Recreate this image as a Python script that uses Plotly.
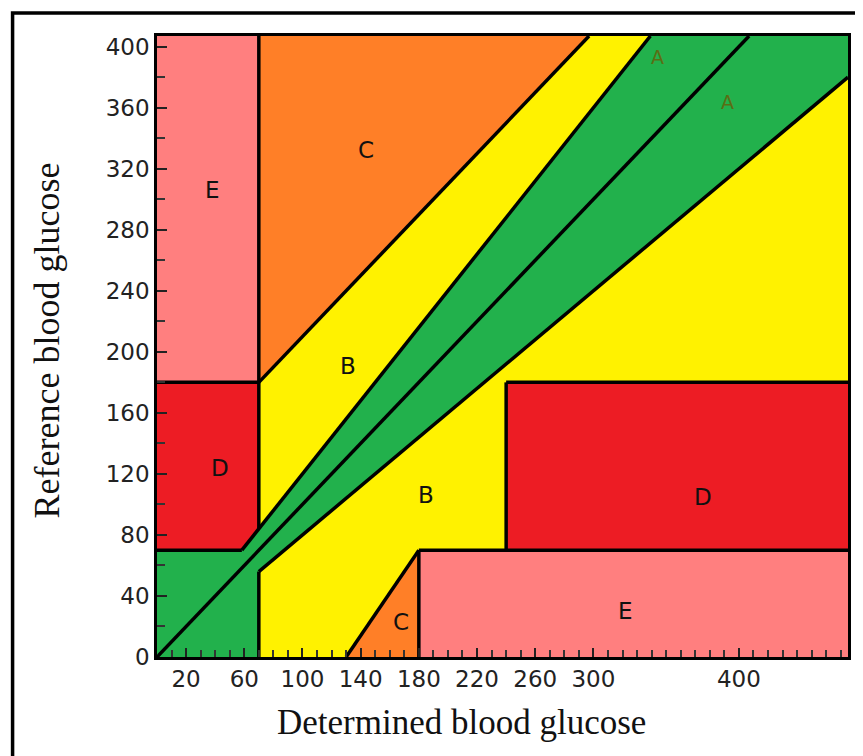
import plotly.graph_objects as go

# ---- axis extents (mg/dL) ----
X_MAX = 475
Y_MAX = 407

# ---- tick labels ----
x_tickvals = [20, 60, 100, 140, 180, 220, 260, 300, 400]
y_tickvals = [0, 40, 80, 120, 160, 200, 240, 280, 320, 360, 400]

# ---- zone polygons (determined, reference) ----
zone_A_x = [0, 0, 175 / 3, Y_MAX / 1.2, X_MAX, X_MAX, 70, 70]
zone_A_y = [0, 70, 70, Y_MAX, Y_MAX, 0.8 * X_MAX, 56, 0]

zone_B_up_x = [70, 70, Y_MAX - 110, Y_MAX / 1.2, 70]
zone_B_up_y = [84, 180, Y_MAX, Y_MAX, 84]

zone_B_lo_x = [70, 70, X_MAX, X_MAX, 240, 240, 180, 130]
zone_B_lo_y = [0, 56, 0.8 * X_MAX, 180, 180, 70, 70, 0]

zone_C_up_x = [70, 70, Y_MAX - 110]
zone_C_up_y = [180, Y_MAX, Y_MAX]

zone_C_lo_x = [130, 180, 180]
zone_C_lo_y = [0, 70, 0]

zone_D_up_x = [0, 0, 70, 70, 175 / 3]
zone_D_up_y = [70, 180, 180, 84, 70]

zone_D_lo_x = [240, 240, X_MAX, X_MAX]
zone_D_lo_y = [70, 180, 180, 70]

zone_E_up_x = [0, 0, 70, 70]
zone_E_up_y = [180, Y_MAX, Y_MAX, 180]

zone_E_lo_x = [180, 180, X_MAX, X_MAX]
zone_E_lo_y = [0, 70, 70, 0]

# ---- boundary segments ----
segments = [
    ([0, Y_MAX], [0, Y_MAX]),                 # identity
    ([175 / 3, Y_MAX / 1.2], [70, Y_MAX]),    # +20 %
    ([70, X_MAX], [56, 0.8 * X_MAX]),         # -20 %
    ([0, 175 / 3], [70, 70]),
    ([70, 70], [84, Y_MAX]),
    ([0, 70], [180, 180]),
    ([70, Y_MAX - 110], [180, Y_MAX]),
    ([70, 70], [0, 56]),
    ([180, 180], [0, 70]),
    ([180, X_MAX], [70, 70]),
    ([240, 240], [70, 180]),
    ([240, X_MAX], [180, 180]),
    ([130, 180], [0, 70]),
]

# ---- zone letters ----
label_text = ["E", "C", "A", "A", "B", "D", "B", "D", "C", "E"]
label_x = [38, 144, 344, 392, 131, 43, 185, 375, 168, 322]
label_y = [306, 332, 393, 364, 191, 124, 106, 105, 23, 30]

GREEN = "#22B14C"
YELLOW = "#FFF200"
ORANGE = "#FF7F27"
RED = "#ED1C24"
PINK = "#FF7F7F"

fig = go.Figure()

zones = [
    (zone_A_x, zone_A_y, GREEN),
    (zone_B_up_x, zone_B_up_y, YELLOW),
    (zone_B_lo_x, zone_B_lo_y, YELLOW),
    (zone_C_up_x, zone_C_up_y, ORANGE),
    (zone_C_lo_x, zone_C_lo_y, ORANGE),
    (zone_D_up_x, zone_D_up_y, RED),
    (zone_D_lo_x, zone_D_lo_y, RED),
    (zone_E_up_x, zone_E_up_y, PINK),
    (zone_E_lo_x, zone_E_lo_y, PINK),
]
for zx, zy, col in zones:
    fig.add_trace(go.Scatter(x=zx, y=zy, fill="toself", fillcolor=col,
                             mode="lines", line=dict(width=0, color=col),
                             hoverinfo="skip", showlegend=False))

for sx, sy in segments:
    fig.add_trace(go.Scatter(x=sx, y=sy, mode="lines",
                             line=dict(color="black", width=3.5),
                             hoverinfo="skip", showlegend=False))

for t, lx, ly in zip(label_text, label_x, label_y):
    is_a = t == "A"
    fig.add_annotation(x=lx, y=ly, text=t, showarrow=False,
                       font=dict(family="DejaVu Sans", size=19 if is_a else 23,
                                 color="#5a6e14" if is_a else "#111111"))

# axis titles
fig.add_annotation(xref="paper", yref="paper", x=0.44, y=-0.105,
                   text="Determined blood glucose", showarrow=False,
                   xanchor="center", yanchor="middle",
                   font=dict(family="Liberation Serif", size=35, color="#111111"))
fig.add_annotation(xref="paper", yref="paper", x=-0.159, y=0.51,
                   text="Reference blood glucose", showarrow=False, textangle=-90,
                   xanchor="center", yanchor="middle",
                   font=dict(family="Liberation Serif", size=36, color="#111111"))

# outer frame
fig.add_shape(type="rect", xref="paper", yref="paper",
              x0=-0.209, x1=1.03, y0=-0.17, y1=1.037,
              line=dict(color="black", width=3.5), fillcolor="rgba(0,0,0,0)",
              layer="below")

fig.update_xaxes(range=[0, X_MAX], tickvals=x_tickvals,
                 ticks="inside", ticklen=9, tickwidth=2, tickcolor="#222",
                 minor=dict(dtick=10, tick0=0, ticks="inside", ticklen=7,
                            tickwidth=1.5, tickcolor="#333"),
                 showgrid=False, zeroline=False, showline=True, linecolor="black",
                 linewidth=2.5, mirror=True,
                 tickfont=dict(family="DejaVu Sans", size=23, color="#222"))
fig.update_yaxes(range=[0, Y_MAX], tickvals=y_tickvals,
                 ticks="inside", ticklen=10, tickwidth=2, tickcolor="#222",
                 minor=dict(dtick=20, tick0=0, ticks="inside", ticklen=8,
                            tickwidth=1.5, tickcolor="#333"),
                 showgrid=False, zeroline=False, showline=True, linecolor="black",
                 linewidth=2.5, mirror=True,
                 tickfont=dict(family="DejaVu Sans", size=23, color="#222"))

fig.update_layout(width=855, height=748,
                  margin=dict(l=149, r=13, t=28, b=99),
                  paper_bgcolor="white", plot_bgcolor="white",
                  showlegend=False)

fig.write_html("out.html")
